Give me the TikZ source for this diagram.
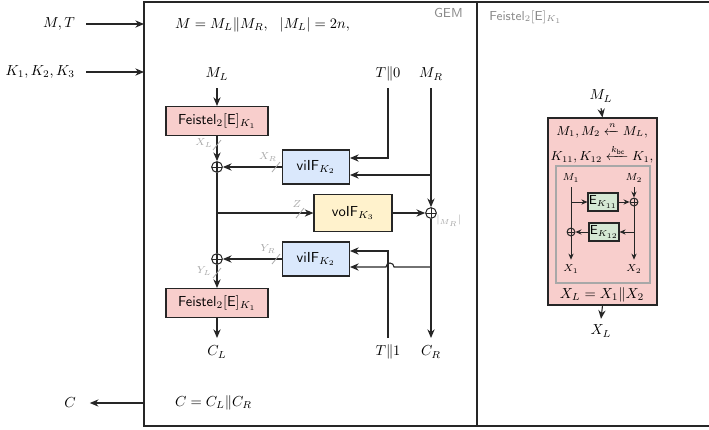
\documentclass[tikz,border=0pt]{standalone}
\usepackage{amsmath}
\usetikzlibrary{arrows.meta,calc}
\definecolor{pinkf}{HTML}{F8CECC}
\definecolor{bluef}{HTML}{DAE8FC}
\definecolor{yellowf}{HTML}{FFF2CC}
\definecolor{greenf}{HTML}{D5E8D4}
\definecolor{lbl}{HTML}{A8A8A8}
\definecolor{ttlc}{HTML}{8A8A8A}
\definecolor{ln}{HTML}{262626}
\tikzset{
  wire/.style={draw=ln, line width=0.75pt},
  awire/.style={wire, -{Stealth[length=6pt,width=5pt]}},
  swire/.style={wire, line width=0.65pt, -{Stealth[length=4.2pt,width=3.6pt]}},
  blk/.style={draw=ln, line width=0.75pt, inner sep=0pt, align=center},
  fbox/.style={blk, fill=pinkf, minimum width=70.4pt, minimum height=20pt},
  vbox/.style={blk, fill=bluef, minimum width=46.2pt, minimum height=23.5pt},
  ybox/.style={blk, fill=yellowf, minimum width=53.8pt, minimum height=25.5pt},
  ebox/.style={blk, fill=greenf, minimum width=20.7pt, minimum height=12.4pt, font=\small},
  xor/.style={circle, draw=ln, line width=0.7pt, inner sep=0pt, minimum size=#1,
    path picture={\draw[ln, line width=0.7pt] (path picture bounding box.north) -- (path picture bounding box.south)
      (path picture bounding box.west) -- (path picture bounding box.east);}},
  xor/.default=7.4pt,
  slash/.style={draw=lbl, line width=0.55pt},
  slbl/.style={text=lbl, font=\scriptsize, inner sep=0pt},
  ttl/.style={text=ttlc, font=\sffamily\small, inner sep=0pt},
}
\begin{document}
\begin{tikzpicture}[x=0.69pt,y=-0.69pt]
\useasboundingbox (0,0) rectangle (709,429);
% frame
\draw[ln, line width=0.85pt] (709,2) -- (144,2) -- (144,426) -- (709,426);
\draw[ln, line width=0.85pt] (477,2) -- (477,426);
\coordinate (fin1) at (144,24);
\coordinate (fin2) at (144,72);
\coordinate (fout) at (144,403);
% outside
\node[anchor=east] (MT) at (80,24) {$M,T$};
\node[anchor=east] (KK) at (80,72) {$K_1,K_2,K_3$};
\node (Cout) at (70,403) {$C$};
\draw[awire] (MT.east) ++(6,0) coordinate (mts) -- (fin1);
\draw[awire] (KK.east) ++(6,0) coordinate (kks) -- (fin2);
\draw[awire] (fout) -- ($(Cout.east)+(9,0)$) coordinate (ce);
% GEM
\node[ttl, anchor=north east] (gem) at (463,8) {GEM};
\node[anchor=west] (eqM) at (170,25) {$M=M_L\|M_R,\ \ |M_L|=2n,$};
\node (ML) at (217,74) {$M_L$};
\node (T0) at (388,74) {$T\|0$};
\node (MR) at (431,74) {$M_R$};
\node[fbox] (F1) at (217,121) {$\mathsf{Feistel}_2[\mathsf{E}]_{K_1}$};
\node[xor] (X1) at (217,167) {};
\node[vbox] (V1) at (316,167) {$\mathsf{viIF}_{K_2}$};
\node[ybox] (Y1) at (353,213) {$\mathsf{voIF}_{K_3}$};
\node[xor] (X3) at (431,213) {};
\node[vbox] (V2) at (316,259) {$\mathsf{viIF}_{K_2}$};
\node[xor] (X2) at (217,259) {};
\node[fbox] (F2) at (217,303) {$\mathsf{Feistel}_2[\mathsf{E}]_{K_1}$};
\node (CL) at (217,352) {$C_L$};
\node (T1) at (388,352) {$T\|1$};
\node (CR) at (431,352) {$C_R$};
\node[anchor=west] (eqC) at (170,403) {$C=C_L\|C_R$};
\node[slbl, anchor=west] (mrl) at (436,221) {$|_{M_R}|$};
% wires GEM
\coordinate (mlt) at (217,88);
\coordinate (t0t) at (388,88);
\coordinate (mrt) at (431,88);
\coordinate (v1a) at (350,158);
\coordinate (v1b) at (350,175);
\coordinate (brA) at (431,175);
\coordinate (brZ) at (217,213);
\coordinate (v2a) at (350,251);
\coordinate (v2b) at (350,267);
\coordinate (brB) at (431,267);
\coordinate (t1t) at (388,338);
\coordinate (clt) at (217,338);
\coordinate (crt) at (431,338);
\draw[awire] (mlt) -- (F1.north);
\draw[awire] (F1.south) -- (X1.north);
\draw[awire] (V1.west) -- (X1.east);
\draw[awire] (t0t) |- (v1a);
\draw[awire] (mrt) -- (X3.north);
\draw[awire] (brA) -- (v1b);
\draw[wire] (X1.south) -- (X2.north);
\draw[awire] (brZ) -- (Y1.west);
\draw[awire] (Y1.east) -- (X3.west);
\draw[awire] (X3.south) -- (crt);
\draw[awire] (brB) -- (394,267) arc[start angle=0, end angle=-180, radius=4] -- (v2b);
\draw[awire] (t1t) |- (v2a);
\draw[awire] (V2.west) -- (X2.east);
\draw[awire] (X2.south) -- (F2.north);
\draw[awire] (F2.south) -- (clt);
% slashes
\draw[slash] (213,150) -- (221,140);
\node[slbl] (lXL) at (204,143) {$X_L$};
\draw[slash] (272,172) -- (280,162);
\node[slbl] (lXR) at (268,157) {$X_R$};
\draw[slash] (296,218) -- (304,208);
\node[slbl] (lZ) at (297,204) {$Z$};
\draw[slash] (272,264) -- (280,254);
\node[slbl] (lYR) at (268,249) {$Y_R$};
\draw[slash] (213,278) -- (221,268);
\node[slbl] (lYL) at (204,271) {$Y_L$};
% right panel
\node[ttl, anchor=west] (ftl) at (489,17) {$\mathsf{Feistel}_2[\mathsf{E}]_{K_1}$};
\node (ML2) at (601,96) {$M_L$};
\node[blk, fill=pinkf, minimum width=75.2pt, minimum height=129pt] (PB) at (602.5,211.5) {};
\node[draw=lbl, line width=0.75pt, minimum width=64.9pt, minimum height=80.7pt, inner sep=0pt] (GB) at (603,224.5) {};
\node[font=\fontsize{9.2}{11}\selectfont] (l1) at (602,130) {$M_1,M_2\xleftarrow{n}M_L,$};
\node[font=\fontsize{9.2}{11}\selectfont] (l2) at (602,154) {$K_{11},K_{12}\xleftarrow{k_{\mathsf{bc}}}K_1,$};
\node (XLeq) at (602,295) {$X_L=X_1\|X_2$};
\node (XLo) at (601,331) {$X_L$};
\draw[awire] ($(ML2.south)+(0,1)$) -- (PB.north);
\draw[awire] (PB.south) -- ($(XLo.north)+(0,-1)$);
\node[font=\scriptsize] (M1) at (571,178) {$M_1$};
\node[font=\scriptsize] (M2) at (634,178) {$M_2$};
\node[font=\scriptsize] (Xo1) at (571,269) {$X_1$};
\node[font=\scriptsize] (Xo2) at (634,269) {$X_2$};
\node[ebox] (E1) at (603,202) {$\mathsf{E}_{K_{11}}$};
\node[ebox] (E2) at (604,232) {$\mathsf{E}_{K_{12}}$};
\node[xor=5.4pt] (X4) at (634,202) {};
\node[xor=5.4pt] (X5) at (571,232) {};
\coordinate (b1) at (571,202);
\coordinate (b2) at (634,232);
\draw[swire] (M1.south) -- (Xo1.north);
\draw[swire] (b1) -- (E1.west);
\draw[swire] (E1.east) -- (X4.west);
\draw[swire] (M2.south) -- (X4.north);
\draw[swire] (X4.south) -- (Xo2.north);
\draw[swire] (b2) -- (E2.east);
\draw[swire] (E2.west) -- (X5.east);
\end{tikzpicture}
\end{document}
